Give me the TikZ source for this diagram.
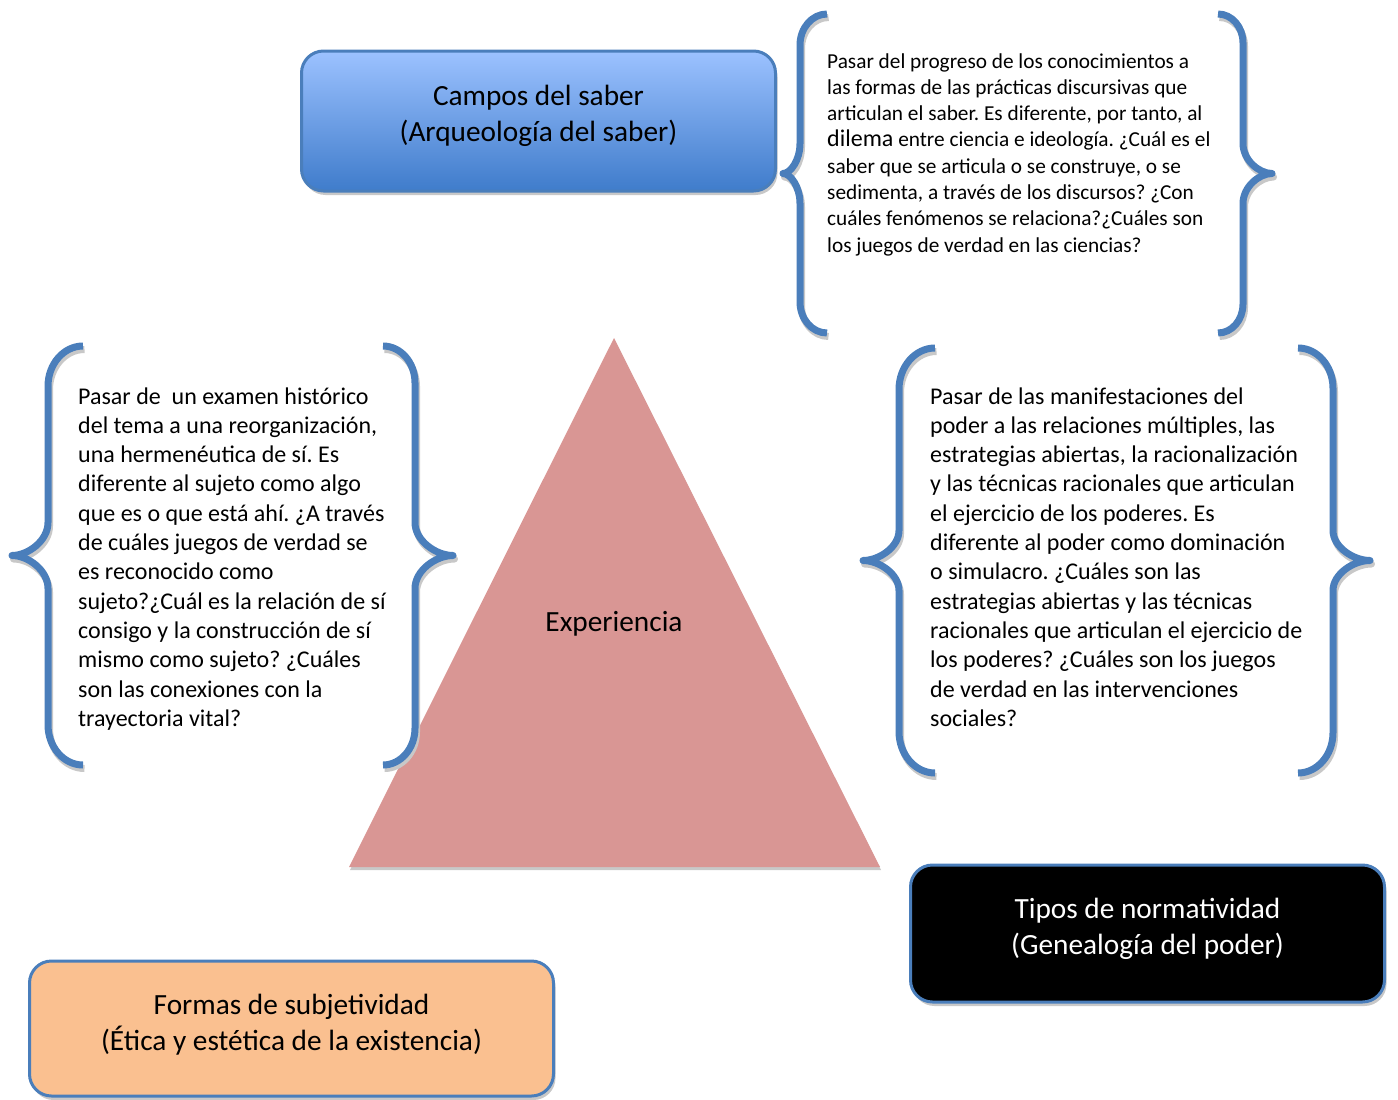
\documentclass[tikz,border=0pt]{standalone}
\usepackage{fontspec}
\setmainfont{Carlito}
\usetikzlibrary{shadows}
\frenchspacing
\definecolor{bracecol}{HTML}{4A7EBB}
\definecolor{bordercol}{HTML}{4A7EBB}
\definecolor{tricol}{HTML}{D99694}
\definecolor{orangefill}{HTML}{FAC090}
\definecolor{bluetop}{HTML}{9CC2FF}
\definecolor{bluebot}{HTML}{3F7CCB}
\definecolor{shadowcol}{HTML}{C8C8C8}

\newcommand{\wbrace}[6]{%
  \pgfmathsetmacro\wbrx{#2-#1}%
  \pgfmathsetmacro\wbry{abs(\wbrx)*1.15}%
  \pgfmathsetmacro\wbqx{#1-#3}%
  \pgfmathsetmacro\wbm{(#4+#5)/2}%
  \foreach \sx/\sy/\col in {1.5/3.5/shadowcol, 0/0/bracecol}{%
    \draw[bracestroke, draw=\col, shift={(\sx,\sy)}]
      ({#2},{#4}) .. controls ({#1+0.448*(\wbrx)},{#4}) and ({#1},{#4+0.448*\wbry}) .. ({#1},{#4+\wbry})
      -- ({#1},{\wbm-#6}) .. controls ({#1},{\wbm-0.448*#6}) and ({#3+0.448*(\wbqx)},{\wbm}) .. ({#3},{\wbm})
      .. controls ({#3+0.448*(\wbqx)},{\wbm}) and ({#1},{\wbm+0.448*#6}) .. ({#1},{\wbm+#6})
      -- ({#1},{#5-\wbry}) .. controls ({#1},{#5-0.448*\wbry}) and ({#1+0.448*(\wbrx)},{#5}) .. ({#2},{#5});
  }%
}

\tikzset{
  bracestroke/.style={line width=7pt, line cap=butt, line join=round},
  box/.style={rounded corners=22pt, line width=3pt, draw=bordercol, inner sep=0pt,
    drop shadow={opacity=1, fill=shadowcol, shadow xshift=2pt, shadow yshift=-4pt}},
  boxtext/.style={font=\fontsize{29.3}{36}\selectfont, align=center, inner sep=0pt},
  bodytext/.style={anchor=base west, inner sep=0pt},
}

\begin{document}
\begin{tikzpicture}[x=1pt,y=-1pt]
\useasboundingbox (0,0) rectangle (1398,1100);

% triangle
\fill[shadowcol] (615,341) -- (881,870) -- (350,870) -- cycle;
\fill[tricol] (614,338) -- (880,867) -- (349,867) -- cycle;
\node[boxtext] (exp) at (614,624) {Experiencia};

% braces
\wbrace{800}{827}{783}{14}{333}{30}
\wbrace{1243}{1218}{1272}{14}{333}{30}
\wbrace{48}{83}{12}{346}{765}{33}
\wbrace{415}{383}{453}{346}{765}{33}
\wbrace{899}{935}{863}{348}{773}{30}
\wbrace{1333}{1298}{1370}{348}{773}{30}

% boxes
\node[box, top color=bluetop, bottom color=bluebot, minimum width=474pt, minimum height=140pt] (campos) at (538.5,121) {};
\node[boxtext] (campostxt) at (538.5,116) {Campos del saber\\(Arqueología del saber)};

\node[box, fill=black, minimum width=474pt, minimum height=137pt] (tipos) at (1147.5,933.5) {};
\node[boxtext, text=white] (tipostxt) at (1147.5,929) {Tipos de normatividad\\(Genealogía del poder)};

\node[box, fill=orangefill, minimum width=524pt, minimum height=135pt] (formas) at (291.5,1028.5) {};
\node[boxtext] (formastxt) at (291.5,1025) {Formas de subjetividad\\(Ética y estética de la existencia)};

% texts
\node[bodytext] (toptxt) at (827,68) {\parbox[t]{430pt}{\raggedright\fontsize{21.3}{26.3}\selectfont
Pasar del progreso de los conocimientos a\\
las formas de las prácticas discursivas que\\
articulan el saber. Es diferente, por tanto, al\\
{\fontsize{24}{26.3}\selectfont dilema} entre ciencia e ideología. ¿Cuál es el\\
saber que se articula o se construye, o se\\
sedimenta, a través de los discursos? ¿Con\\
cuáles fenómenos se relaciona?¿Cuáles son\\
los juegos de verdad en las ciencias?}};

\node[bodytext] (lefttxt) at (78,404) {\parbox[t]{330pt}{\raggedright\fontsize{24}{29.3}\selectfont
Pasar de\ \ un examen histórico\\
del tema a una reorganización,\\
una hermenéutica de sí. Es\\
diferente al sujeto como algo\\
que es o que está ahí. ¿A través\\
de cuáles juegos de verdad se\\
es reconocido como\\
sujeto?¿Cuál es la relación de sí\\
consigo y la construcción de sí\\
mismo como sujeto? ¿Cuáles\\
son las conexiones con la\\
trayectoria vital?}};

\node[bodytext] (righttxt) at (930,404) {\parbox[t]{400pt}{\raggedright\fontsize{24}{29.3}\selectfont
Pasar de las manifestaciones del\\
poder a las relaciones múltiples, las\\
estrategias abiertas, la racionalización\\
y las técnicas racionales que articulan\\
el ejercicio de los poderes. Es\\
diferente al poder como dominación\\
o simulacro. ¿Cuáles son las\\
estrategias abiertas y las técnicas\\
racionales que articulan el ejercicio de\\
los poderes? ¿Cuáles son los juegos\\
de verdad en las intervenciones\\
sociales?}};
\end{tikzpicture}
\end{document}
